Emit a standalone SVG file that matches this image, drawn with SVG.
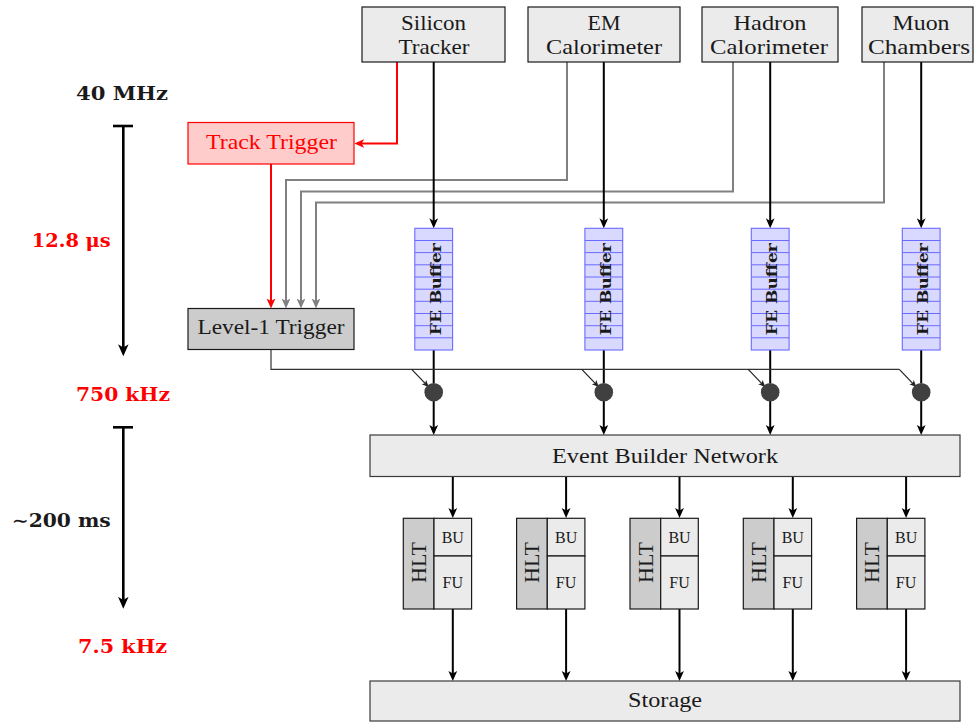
<svg xmlns="http://www.w3.org/2000/svg" width="976" height="722" viewBox="0 0 976 722">
<style>
.t{font-family:"Liberation Serif","Times New Roman",serif;font-size:22px;fill:#1a1a1a;text-anchor:middle}
.s{font-family:"Liberation Serif","Times New Roman",serif;font-size:16px;fill:#1a1a1a;text-anchor:middle}
.b{font-family:"DejaVu Serif","Liberation Serif",serif;font-weight:bold;font-size:18px;text-anchor:end}
.fe{font-family:"DejaVu Serif","Liberation Serif",serif;font-weight:bold;font-size:15.5px;fill:#1a1a1a;text-anchor:middle}
.box{fill:#ebebeb;stroke:#1a1a1a;stroke-width:1.2}
.dark{fill:#cccccc;stroke:#1a1a1a;stroke-width:1.2}
.wide{fill:#ebebeb;stroke:#3a3a3a;stroke-width:1.2}
.buf{fill:#d9d9ff;stroke:#6a6aff;stroke-width:1.1}
.bl{fill:none;stroke:#6a6aff;stroke-width:1}
.k{fill:none;stroke:#000;stroke-width:2;marker-end:url(#ak)}
.r{fill:none;stroke:#ff0000;stroke-width:2;marker-end:url(#ar)}
.g{fill:none;stroke:#808080;stroke-width:2;marker-end:url(#ag)}
.thin{fill:none;stroke:#333;stroke-width:1.2}
.dg{fill:none;stroke:#222;stroke-width:1.2;marker-end:url(#as)}
.tl{fill:none;stroke:#000;stroke-width:2.6}
</style>
<defs>
<marker id="ak" markerUnits="userSpaceOnUse" viewBox="0 0 10 10" markerWidth="10" markerHeight="10" refX="6" refY="5" orient="auto"><path d="M0,0.6 L10,5 L0,9.4 L2.6,5 z" fill="#000"/></marker>
<marker id="ar" markerUnits="userSpaceOnUse" viewBox="0 0 10 10" markerWidth="10" markerHeight="10" refX="6" refY="5" orient="auto"><path d="M0,0.6 L10,5 L0,9.4 L2.6,5 z" fill="#ff0000"/></marker>
<marker id="ag" markerUnits="userSpaceOnUse" viewBox="0 0 10 10" markerWidth="10" markerHeight="10" refX="6" refY="5" orient="auto"><path d="M0,0.6 L10,5 L0,9.4 L2.6,5 z" fill="#808080"/></marker>
<marker id="as" markerUnits="userSpaceOnUse" viewBox="0 0 10 10" markerWidth="7" markerHeight="7" refX="7" refY="5" orient="auto"><path d="M0,0.6 L10,5 L0,9.4 L2.6,5 z" fill="#222"/></marker>
<marker id="at" markerUnits="userSpaceOnUse" viewBox="0 0 10 10" markerWidth="12" markerHeight="12" refX="6" refY="5" orient="auto"><path d="M0,0.6 L10,5 L0,9.4 L2.6,5 z" fill="#000"/></marker>
</defs>

<g id="timeline">
<text class="b" x="168" y="99.5" fill="#1a1a1a" textLength="92" lengthAdjust="spacingAndGlyphs">40 MHz</text>
<path class="tl" d="M113,126 H133"/>
<path class="tl" d="M123.3,126 V351.5" marker-end="url(#at)"/>
<text class="b" x="110.7" y="247" fill="#ff0000" textLength="79" lengthAdjust="spacingAndGlyphs">12.8 μs</text>
<text class="b" x="170" y="401" fill="#ff0000" textLength="94" lengthAdjust="spacingAndGlyphs">750 kHz</text>
<path class="tl" d="M113,427.3 H133"/>
<path class="tl" d="M123.3,427.3 V604" marker-end="url(#at)"/>
<text class="b" x="110.7" y="526.5" fill="#1a1a1a" textLength="99" lengthAdjust="spacingAndGlyphs">∼200 ms</text>
<text class="b" x="167" y="652.5" fill="#ff0000" textLength="89" lengthAdjust="spacingAndGlyphs">7.5 kHz</text>
</g>

<g id="connectors">
<path class="r" d="M397,62 V143.5 H358.3"/>
<path class="r" d="M271,164 V304.5"/>
<path class="g" d="M567,62 V180 H286 V304.5"/>
<path class="g" d="M733,62 V191.5 H301 V304.5"/>
<path class="g" d="M884,62 V202.5 H316 V304.5"/>
<path class="k" d="M433.7,62 V224.3"/>
<path class="k" d="M603.8,62 V224.3"/>
<path class="k" d="M770.2,62 V224.3"/>
<path class="k" d="M921.2,62 V224.3"/>
<path class="k" d="M433.7,350 V383" style="marker-end:none"/>
<path class="k" d="M603.8,350 V383" style="marker-end:none"/>
<path class="k" d="M770.2,350 V383" style="marker-end:none"/>
<path class="k" d="M921.2,350 V383" style="marker-end:none"/>
<path class="k" d="M433.7,401 V431"/>
<path class="k" d="M603.8,401 V431"/>
<path class="k" d="M770.2,401 V431"/>
<path class="k" d="M921.2,401 V431"/>
<path class="thin" d="M271,349.5 V369.3 H899.3"/>
<path class="dg" d="M411.7,369.3 L427.3,385.6"/>
<path class="dg" d="M581.8,369.3 L597.4,385.6"/>
<path class="dg" d="M748.2,369.3 L763.8,385.6"/>
<path class="dg" d="M899.3,369.3 L914.9,385.6"/>
<path class="k" d="M452.8,476 V514"/>
<path class="k" d="M566.1,476 V514"/>
<path class="k" d="M679.5,476 V514"/>
<path class="k" d="M792.8,476 V514"/>
<path class="k" d="M906.1,476 V514"/>
<path class="k" d="M452.8,609 V677"/>
<path class="k" d="M566.1,609 V677"/>
<path class="k" d="M679.5,609 V677"/>
<path class="k" d="M792.8,609 V677"/>
<path class="k" d="M906.1,609 V677"/>
</g>

<g id="silicon-tracker">
<rect class="box" x="362" y="7" width="143" height="55"/>
<text class="t" x="433.5" y="30" textLength="65" lengthAdjust="spacingAndGlyphs">Silicon</text>
<text class="t" x="434" y="54.3" textLength="71" lengthAdjust="spacingAndGlyphs">Tracker</text>
</g>
<g id="em-calorimeter">
<rect class="box" x="528" y="7" width="152" height="55"/>
<text class="t" x="604" y="30">EM</text>
<text class="t" x="604" y="54.3" textLength="116" lengthAdjust="spacingAndGlyphs">Calorimeter</text>
</g>
<g id="hadron-calorimeter">
<rect class="box" x="702" y="7" width="136" height="55"/>
<text class="t" x="770" y="30" textLength="73" lengthAdjust="spacingAndGlyphs">Hadron</text>
<text class="t" x="769" y="54.3" textLength="118" lengthAdjust="spacingAndGlyphs">Calorimeter</text>
</g>
<g id="muon-chambers">
<rect class="box" x="862" y="7" width="111" height="55"/>
<text class="t" x="921" y="30" textLength="57" lengthAdjust="spacingAndGlyphs">Muon</text>
<text class="t" x="919" y="54.3" textLength="102" lengthAdjust="spacingAndGlyphs">Chambers</text>
</g>

<g id="track-trigger">
<rect x="188" y="122.5" width="166" height="41.5" fill="#ffcccc" stroke="#ff0000" stroke-width="1.2"/>
<text class="t" x="271.5" y="148.5" fill="#ff0000" style="fill:#ff0000" textLength="131" lengthAdjust="spacingAndGlyphs">Track Trigger</text>
</g>
<g id="level1-trigger">
<rect class="dark" x="188" y="308.5" width="166" height="41"/>
<text class="t" x="271" y="334.3" textLength="147" lengthAdjust="spacingAndGlyphs">Level-1 Trigger</text>
</g>

<g id="fe-buffer-1">
<rect class="buf" x="414.8" y="228.3" width="37.8" height="121.7"/>
<path class="bl" d="M414.8,240.5H452.6M414.8,252.6H452.6M414.8,264.8H452.6M414.8,277H452.6M414.8,289.2H452.6M414.8,301.3H452.6M414.8,313.5H452.6M414.8,325.7H452.6M414.8,337.8H452.6"/>
<text class="fe" transform="translate(440.5,289.2) rotate(-90)" textLength="92" lengthAdjust="spacingAndGlyphs">FE Buffer</text>
</g>
<g id="fe-buffer-2">
<rect class="buf" x="584.9" y="228.3" width="37.8" height="121.7"/>
<path class="bl" d="M584.9,240.5H622.7M584.9,252.6H622.7M584.9,264.8H622.7M584.9,277H622.7M584.9,289.2H622.7M584.9,301.3H622.7M584.9,313.5H622.7M584.9,325.7H622.7M584.9,337.8H622.7"/>
<text class="fe" transform="translate(610.6,289.2) rotate(-90)" textLength="92" lengthAdjust="spacingAndGlyphs">FE Buffer</text>
</g>
<g id="fe-buffer-3">
<rect class="buf" x="751.3" y="228.3" width="37.8" height="121.7"/>
<path class="bl" d="M751.3,240.5H789.1M751.3,252.6H789.1M751.3,264.8H789.1M751.3,277H789.1M751.3,289.2H789.1M751.3,301.3H789.1M751.3,313.5H789.1M751.3,325.7H789.1M751.3,337.8H789.1"/>
<text class="fe" transform="translate(777,289.2) rotate(-90)" textLength="92" lengthAdjust="spacingAndGlyphs">FE Buffer</text>
</g>
<g id="fe-buffer-4">
<rect class="buf" x="902.3" y="228.3" width="37.8" height="121.7"/>
<path class="bl" d="M902.3,240.5H940.1M902.3,252.6H940.1M902.3,264.8H940.1M902.3,277H940.1M902.3,289.2H940.1M902.3,301.3H940.1M902.3,313.5H940.1M902.3,325.7H940.1M902.3,337.8H940.1"/>
<text class="fe" transform="translate(928,289.2) rotate(-90)" textLength="92" lengthAdjust="spacingAndGlyphs">FE Buffer</text>
</g>

<g id="merge-1"><circle cx="433.7" cy="392.2" r="9.3" fill="#404040"/></g>
<g id="merge-2"><circle cx="603.8" cy="392.2" r="9.3" fill="#404040"/></g>
<g id="merge-3"><circle cx="770.2" cy="392.2" r="9.3" fill="#404040"/></g>
<g id="merge-4"><circle cx="921.2" cy="392.2" r="9.3" fill="#404040"/></g>

<g id="event-builder-network">
<rect class="wide" x="370" y="435" width="590" height="41.5"/>
<text class="t" x="665" y="463" textLength="226" lengthAdjust="spacingAndGlyphs">Event Builder Network</text>
</g>

<g id="hlt-1">
<rect class="dark" x="403.3" y="518.3" width="30.7" height="90.7"/>
<rect class="box" x="434" y="518.3" width="37.6" height="37.7"/>
<rect class="box" x="434" y="556" width="37.6" height="53"/>
<text class="t" transform="translate(426,562.5) rotate(-90)">HLT</text>
<text class="s" x="452.8" y="543">BU</text>
<text class="s" x="452.8" y="588">FU</text>
</g>
<g id="hlt-2">
<rect class="dark" x="516.6" y="518.3" width="30.7" height="90.7"/>
<rect class="box" x="547.3" y="518.3" width="37.6" height="37.7"/>
<rect class="box" x="547.3" y="556" width="37.6" height="53"/>
<text class="t" transform="translate(539.3,562.5) rotate(-90)">HLT</text>
<text class="s" x="566.1" y="543">BU</text>
<text class="s" x="566.1" y="588">FU</text>
</g>
<g id="hlt-3">
<rect class="dark" x="630" y="518.3" width="30.7" height="90.7"/>
<rect class="box" x="660.7" y="518.3" width="37.6" height="37.7"/>
<rect class="box" x="660.7" y="556" width="37.6" height="53"/>
<text class="t" transform="translate(652.7,562.5) rotate(-90)">HLT</text>
<text class="s" x="679.5" y="543">BU</text>
<text class="s" x="679.5" y="588">FU</text>
</g>
<g id="hlt-4">
<rect class="dark" x="743.3" y="518.3" width="30.7" height="90.7"/>
<rect class="box" x="774" y="518.3" width="37.6" height="37.7"/>
<rect class="box" x="774" y="556" width="37.6" height="53"/>
<text class="t" transform="translate(766,562.5) rotate(-90)">HLT</text>
<text class="s" x="792.8" y="543">BU</text>
<text class="s" x="792.8" y="588">FU</text>
</g>
<g id="hlt-5">
<rect class="dark" x="856.6" y="518.3" width="30.7" height="90.7"/>
<rect class="box" x="887.3" y="518.3" width="37.6" height="37.7"/>
<rect class="box" x="887.3" y="556" width="37.6" height="53"/>
<text class="t" transform="translate(879.3,562.5) rotate(-90)">HLT</text>
<text class="s" x="906.1" y="543">BU</text>
<text class="s" x="906.1" y="588">FU</text>
</g>

<g id="storage">
<rect class="wide" x="370" y="681" width="590" height="40"/>
<text class="t" x="665" y="707" textLength="74" lengthAdjust="spacingAndGlyphs">Storage</text>
</g>
</svg>
